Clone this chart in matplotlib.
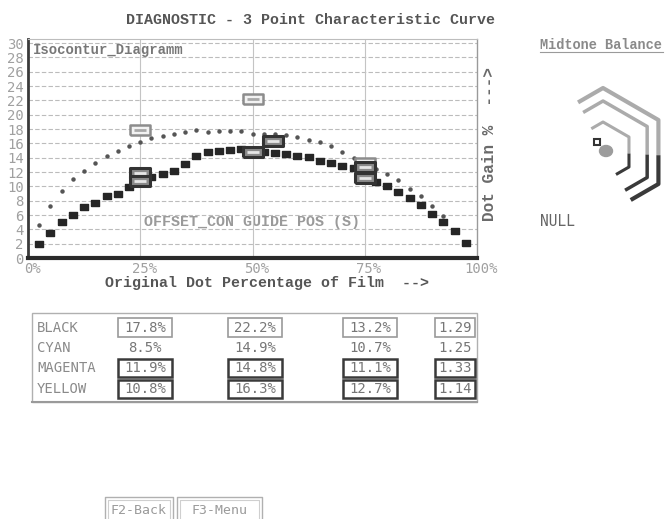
import numpy as np
import matplotlib.pyplot as plt
from matplotlib.patches import Rectangle, Ellipse

# --- data ---
curve_x = [2.5, 5, 7.5, 10, 12.5, 15, 17.5, 20, 22.5, 25, 27.5, 30, 32.5, 35, 37.5,
           40, 42.5, 45, 47.5, 50, 52.5, 55, 57.5, 60, 62.5, 65, 67.5, 70, 72.5,
           75, 77.5, 80, 82.5, 85, 87.5, 90, 92.5, 95, 97.5]
curve_gain = [1.9, 3.5, 5.0, 6.0, 7.1, 7.7, 8.6, 8.9, 9.9, 11.0, 11.3, 11.7, 12.1, 13.1, 14.2,
              14.8, 15.0, 15.1, 15.2, 15.1, 14.8, 14.6, 14.5, 14.3, 14.1, 13.6, 13.3, 12.9, 12.6,
              12.2, 10.6, 10.0, 9.2, 8.4, 7.4, 6.2, 5.0, 3.8, 2.1]

upper_x = [2.5, 5, 7.5, 10, 12.5, 15, 17.5, 20, 22.5, 25, 27.5, 30, 32.5, 35, 37.5,
           40, 42.5, 45, 47.5, 50, 52.5, 55, 57.5, 60, 62.5, 65, 67.5, 70, 72.5,
           75, 77.5, 80, 82.5, 85, 87.5, 90, 92.5]
upper_gain = [4.6, 7.2, 9.4, 11.0, 12.2, 13.3, 14.3, 15.0, 15.7, 16.2, 16.7, 17.0, 17.3, 17.6, 17.8,
              17.6, 17.7, 17.7, 17.7, 17.3, 17.3, 17.3, 17.1, 16.9, 16.5, 16.2, 15.6, 14.8, 14.0,
              13.2, 12.4, 11.7, 10.9, 9.6, 8.7, 7.3, 5.9]

points = [25, 50, 75]
inks = ['BLACK', 'CYAN', 'MAGENTA', 'YELLOW']
black = [17.8, 22.2, 13.2]
cyan = [8.5, 14.9, 10.7]
magenta = [11.9, 14.8, 11.1]
yellow = [10.8, 16.3, 12.7]
balance = [1.29, 1.25, 1.33, 1.14]

y_ticks = list(range(0, 31, 2))
x_ticks = [0, 25, 50, 75, 100]
x_labels = ['0%', '25%', '50%', '75%', '100%']

W, H = 667, 519
MONO = 'DejaVu Sans Mono'
SERIF = 'Liberation Mono'
plt.rcParams['font.family'] = MONO

fig = plt.figure(figsize=(W / 100, H / 100), dpi=100)
fig.patch.set_facecolor('white')

# overlay in screen pixels for the rest of the panel
ov = fig.add_axes([0, 0, 1, 1])
ov.set_xlim(0, W)
ov.set_ylim(H, 0)
ov.axis('off')

# main plot, placed in screen pixels
L, R, T, B = 28, 477, 39.5, 258
ax = fig.add_axes([L / W, 1 - B / H, (R - L) / W, (B - T) / H])
ax.patch.set_alpha(0)
ax.set_xlim(0, 100)
ax.set_ylim(0, 30.5)
for y in y_ticks[1:]:
    ax.axhline(y, color='#bcbcbc', lw=0.8, ls=(0, (4, 2)), zorder=0)
for x in points:
    ax.axvline(x, color='#c4c4c4', lw=0.8, zorder=0)

ax.spines['left'].set_color('#3a3a3a')
ax.spines['left'].set_linewidth(2)
ax.spines['bottom'].set_color('#2a2a2a')
ax.spines['bottom'].set_linewidth(3)
ax.spines['top'].set_color('#bdbdbd')
ax.spines['top'].set_linewidth(0.8)
ax.spines['right'].set_color('#9a9a9a')
ax.spines['right'].set_linewidth(1)

ax.set_yticks(y_ticks)
ax.set_yticklabels([str(v) for v in y_ticks], color='#a0a0a0', fontsize=10)
ax.set_xticks([])
ax.tick_params(axis='y', length=0, pad=3)
for t, lab in zip(x_ticks, x_labels):
    ax.annotate(lab, xy=(t, 0), xycoords=('data', 'axes fraction'), xytext=(3, -3),
                textcoords='offset points', ha='center', va='top', color='#a0a0a0', fontsize=10)

rect = [(-1, -0.75), (1, -0.75), (1, 0.75), (-1, 0.75), (-1, -0.75)]
box = [(-1, -0.5), (1, -0.5), (1, 0.5), (-1, 0.5), (-1, -0.5)]

ax.plot(upper_x, upper_gain, ls='none', marker='o', ms=2.2, color='#555555', zorder=2)
ax.plot(curve_x, curve_gain, ls='none', marker=rect, ms=5.2, color='#262626', zorder=3)

# measured points: black = light box, magenta / yellow = dark boxes
nudge_yellow = [0, 4.6, 0]
ax.plot(points, black, ls='none', marker=box, ms=15, mfc='#f2f2f2', mec='#8c8c8c', mew=1.8, zorder=4)
ax.plot(points, black, ls='none', marker='_', ms=9, mec='#a8a8a8', mew=2, zorder=5)
for vals, dx in [(magenta, [0, 0, 0]), (yellow, nudge_yellow)]:
    xs = [p + d for p, d in zip(points, dx)]
    ax.plot(xs, vals, ls='none', marker=box, ms=15, mfc='#8a8a8a', mec='#333333', mew=2.2, zorder=6)
    ax.plot(xs, vals, ls='none', marker='_', ms=9, mec='#e6e6e6', mew=2, zorder=7)

ov.text(311, 20, 'DIAGNOSTIC - 3 Point Characteristic Curve', family=SERIF, weight='bold',
        fontsize=10.8, color='#555555', ha='center', va='center')
ov.text(267, 283, 'Original Dot Percentage of Film  -->', family=SERIF, weight='bold',
        fontsize=10.8, color='#555555', ha='center', va='center')
ov.text(490, 144, 'Dot Gain %  --->', family=SERIF, weight='bold', rotation=90,
        fontsize=11.5, color='#6a6a6a', ha='center', va='center')
ov.text(33, 50, 'Isocontur_Diagramm', family=SERIF, weight='bold',
        fontsize=10, color='#777777', ha='left', va='center')
ov.text(252, 222, 'OFFSET_CON GUIDE POS (S)', family=SERIF, weight='bold',
        fontsize=10.8, color='#9a9a9a', ha='center', va='center')

ov.text(540, 45, 'Midtone Balance', family=SERIF, weight='bold', fontsize=9.8,
        color='#8a8a8a', ha='left', va='center')
ov.plot([540, 663], [52, 52], color='#9a9a9a', lw=0.8)
ov.text(540, 222, 'NULL', fontsize=10.5, color='#666666', ha='left', va='center')

# midtone balance icon: three partial hexagons
cx, cy = 603, 152
for r, lw in [(64, 3.0), (51, 2.5), (30, 2.2)]:
    ang = np.radians([150, 90, 30, -30, -90])
    vx = cx + r * np.cos(ang)
    vy = cy - r * np.sin(ang)
    sx, sy = vx[0] + 0.55 * (vx[1] - vx[0]), vy[0] + 0.55 * (vy[1] - vy[0])
    ex, ey = vx[3] + 0.5 * (vx[4] - vx[3]), vy[3] + 0.5 * (vy[4] - vy[3])
    mx, my = vx[2], vy[2] + 0.55 * (vy[3] - vy[2])
    ov.plot([sx, vx[1], vx[2], mx], [sy, vy[1], vy[2], my], color='#ababab', lw=lw,
            solid_capstyle='butt')
    ov.plot([mx, vx[3], ex], [my, vy[3], ey], color='#3a3a3a', lw=lw, solid_capstyle='butt')
ov.add_patch(Ellipse((606, 151), 13, 11, color='#9c9c9c'))
ov.add_patch(Rectangle((594, 139), 6, 6, fill=False, ec='#333333', lw=1.5))

# value table
ov.add_patch(Rectangle((32, 313), 445, 89, fill=False, ec='#b0b0b0', lw=1))
ov.plot([32, 477], [402, 402], color='#9a9a9a', lw=1.5)
row_y = [328, 348, 368, 389]
col_x = [145, 255, 370]
table = [black, cyan, magenta, yellow]
for k, (name, vals) in enumerate(zip(inks, table)):
    y = row_y[k]
    ov.text(37, y, name, fontsize=10, color='#8a8a8a', ha='left', va='center')
    for c, v in zip(col_x, vals):
        ov.text(c, y, f'{v:.1f}%', fontsize=10, color='#777777', ha='center', va='center')
        if name == 'BLACK':
            ov.add_patch(Rectangle((c - 27, y - 10), 54, 19, fill=False, ec='#9a9a9a', lw=1.2))
        elif name != 'CYAN':
            ov.add_patch(Rectangle((c - 27, y - 9), 54, 18, fill=False, ec='#3a3a3a', lw=1.8))
    ov.text(455, y, f'{balance[k]:.2f}', fontsize=10, color='#777777', ha='center', va='center')
    if name == 'BLACK':
        ov.add_patch(Rectangle((435, y - 10), 40, 19, fill=False, ec='#9a9a9a', lw=1.2))
    elif name != 'CYAN':
        ov.add_patch(Rectangle((435, y - 9), 40, 18, fill=False, ec='#3a3a3a', lw=1.8))

# function key buttons
for x0, x1, lab in [(105, 173, 'F2-Back'), (177, 262, 'F3-Menu')]:
    ov.plot([x0, x0, x1, x1], [H, 497, 497, H], color='#b0b0b0', lw=1)
    ov.plot([x0 + 3, x0 + 3, x1 - 3, x1 - 3], [H, 500, 500, H], color='#cfcfcf', lw=0.8)
    ov.text((x0 + x1) / 2, 511, lab, fontsize=9.5, color='#9a9a9a', ha='center', va='center')

fig.savefig('out.png', dpi=100)
